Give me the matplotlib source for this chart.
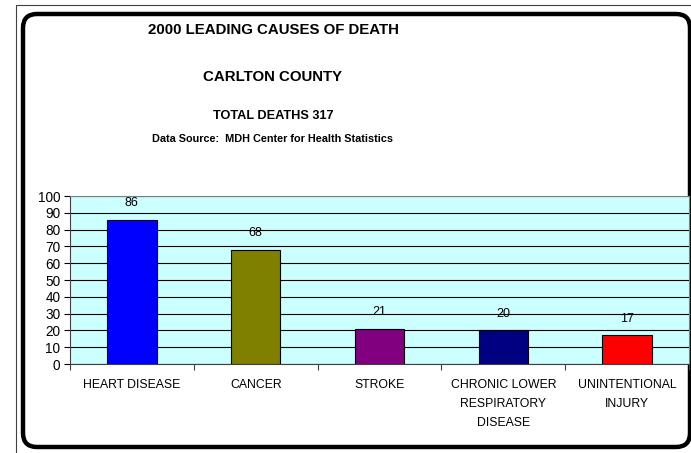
import matplotlib
matplotlib.use("Agg")
import matplotlib.pyplot as plt
from matplotlib.patches import FancyBboxPatch, Rectangle
import numpy as np

plt.rcParams['font.family'] = ['Liberation Sans', 'DejaVu Sans']

causes = ["HEART DISEASE", "CANCER", "STROKE",
          "CHRONIC LOWER\nRESPIRATORY\nDISEASE", "UNINTENTIONAL\nINJURY"]
deaths = [86, 68, 21, 20, 17]
colors = ["#0000FF", "#808000", "#800080", "#000080", "#FF0000"]
yticks = [0, 10, 20, 30, 40, 50, 60, 70, 80, 90, 100]

W, H = 691, 453
fig = plt.figure(figsize=(W / 100, H / 100), dpi=100)

# frame layer, 1 unit = 1 pixel
bg = fig.add_axes([0, 0, 1, 1])
bg.set_xlim(0, W)
bg.set_ylim(H, 0)
bg.axis('off')
bg.add_patch(Rectangle((16, 5), W, H, fill=False, edgecolor='#404040', linewidth=0.8))
bg.add_patch(FancyBboxPatch((23 + 14, 14 + 14), 690 - 23 - 28, 447 - 14 - 28,
                            boxstyle="round,pad=14", fill=False,
                            edgecolor='black', linewidth=3.2))

tx = 273
bg.text(tx, 30, "2000 LEADING CAUSES OF DEATH", ha='center', va='center',
        fontsize=10.8, fontweight='bold')
bg.text(tx, 77, "CARLTON COUNTY", ha='center', va='center',
        fontsize=10.8, fontweight='bold')
bg.text(tx, 116, "TOTAL DEATHS 317", ha='center', va='center',
        fontsize=9.2, fontweight='bold')
bg.text(tx, 139, "Data Source:  MDH Center for Health Statistics", ha='center', va='center',
        fontsize=7.8, fontweight='bold')

# chart
x0, x1, y0, y1 = 70, 689, 196, 364
ax = fig.add_axes([x0 / W, (H - y1) / H, (x1 - x0) / W, (y1 - y0) / H])
ax.set_facecolor('#CCFFFF')
x = np.arange(len(causes))
bars = ax.bar(x, deaths, width=0.4, color=colors, edgecolor='black', linewidth=0.8, zorder=3)
for xi, v in zip(x, deaths):
    ax.annotate(str(v), (xi, v), xytext=(0, 12), textcoords='offset points',
                ha='center', va='center', fontsize=9, zorder=4)

ax.set_xlim(-0.5, len(causes) - 0.5)
ax.set_ylim(0, 100)
ax.set_yticks(yticks)
ax.yaxis.grid(True, color='black', linewidth=0.8)
ax.set_axisbelow(True)
ax.tick_params(axis='y', labelsize=9.8, length=4, width=0.8, pad=3, colors='black')
ax.set_xticks(x)
ax.set_xticklabels(causes, fontsize=8.8, linespacing=1.75, va='top')
ax.tick_params(axis='x', which='major', length=0, pad=11)
ax.set_xticks(np.arange(len(causes) + 1) - 0.5, minor=True)
ax.tick_params(axis='x', which='minor', length=4, width=0.8, color='#404040')
for s in ['top', 'right']:
    ax.spines[s].set_color('#808080')
for s in ['left', 'bottom']:
    ax.spines[s].set_color('#404040')
    ax.spines[s].set_linewidth(0.8)

fig.savefig("out.png", dpi=100)
